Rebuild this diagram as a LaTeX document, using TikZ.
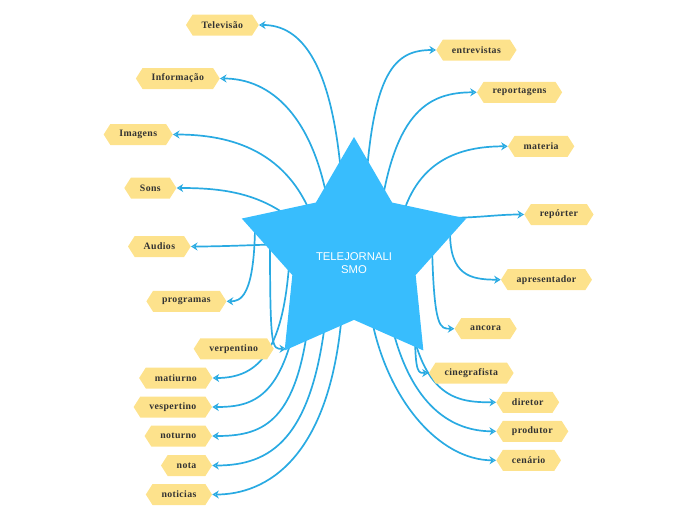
\documentclass[tikz,border=0pt]{standalone}
\usepackage{fontspec}
\setmainfont{Liberation Serif}
\newfontfamily\topicfont[LetterSpace=4]{Liberation Serif}
\newfontfamily\centerfont{Liberation Sans}
\usetikzlibrary{shapes.geometric, shapes.symbols, arrows.meta, backgrounds}
\definecolor{tjStar}{HTML}{38BDFD}
\definecolor{tjLine}{HTML}{29AAE2}
\definecolor{tjTopic}{HTML}{FDE28C}
\definecolor{tjText}{HTML}{333333}

\begin{document}
\begin{tikzpicture}[x=1pt, y=1pt,
  topic/.style={signal, signal to=east and west, signal pointer angle=115,
                fill=tjTopic, text=tjText,
                font=\topicfont\bfseries\fontsize{9.8}{11}\selectfont,
                inner xsep=9pt, inner ysep=2pt, minimum height=21pt},
  link/.style={draw=tjLine, line width=1.7pt,
               -{Stealth[open, length=6.5pt, width=8pt]}}]
  \useasboundingbox (0,0) rectangle (696,-520);

  % centre
  \node[star, star points=5, star point ratio=1.82, minimum size=236pt,
        inner sep=0pt, fill=tjStar] (tele) at (354,-255) {};
  \node[text=white, align=center, font=\centerfont\fontsize{11.3}{13.3}\selectfont]
    (teletext) at (354,-263) {TELEJORNALI\\SMO};

  % left branch
  \node[topic, anchor=east] (televisao)  at (259,-25)    {Televisão};
  \node[topic, anchor=east] (informacao) at (220,-78.5)  {Informação};
  \node[topic, anchor=east] (imagens)    at (173,-134.5) {Imagens};
  \node[topic, anchor=east] (sons)       at (176.7,-188) {Sons};
  \node[topic, anchor=east] (audios)     at (191,-246.5) {Audios};
  \node[topic, anchor=east] (programas)  at (226.7,-301.3) {programas};
  \node[topic, anchor=east] (verpentino) at (274,-348.8) {verpentino};
  \node[topic, anchor=east] (matiurno)   at (212.7,-378) {matiurno};
  \node[topic, anchor=east] (vespertino) at (212.3,-407) {vespertino};
  \node[topic, anchor=east] (noturno)    at (212.3,-436) {noturno};
  \node[topic, anchor=east] (nota)       at (212.3,-465.5) {nota};
  \node[topic, anchor=east] (noticias)   at (212.3,-494.5) {noticias};
  \coordinate (verpentino-in) at ([xshift=12pt]verpentino.east);

  % right branch
  \node[topic, anchor=west] (entrevistas)  at (436,-50)    {entrevistas};
  \node[topic, anchor=west] (reportagens)  at (476.7,-92.3) {reportagens};
  \node[topic, anchor=west] (materia)      at (507.7,-146.3) {materia};
  \node[topic, anchor=west] (reporter)     at (524,-214.5) {repórter};
  \node[topic, anchor=west] (apresentador) at (500.7,-279.7) {apresentador};
  \node[topic, anchor=west] (ancora)       at (454.3,-328.7) {ancora};
  \node[topic, anchor=west] (cinegrafista) at (428.7,-373) {cinegrafista};
  \node[topic, anchor=west] (diretor)      at (496,-402.3) {diretor};
  \node[topic, anchor=west] (produtor)     at (496,-431.3) {produtor};
  \node[topic, anchor=west] (cenario)      at (496,-460.3) {cenário};

  \begin{scope}[on background layer]
    \draw[link] ([shift={(-11,55)}]tele.center) .. controls +(-8,140) and +(41,0) .. (televisao.east);
    \draw[link] ([shift={(-24,40)}]tele.center) .. controls +(-15,100) and +(50,0) .. (informacao.east);
    \draw[link] ([shift={(-39,30)}]tele.center) .. controls +(-25,75) and +(57,0) .. (imagens.east);
    \draw[link] ([shift={(-59,33)}]tele.center) .. controls +(-35,30) and +(43,0) .. (sons.east);
    \draw[link] ([shift={(-69,11)}]tele.center) .. controls +(-30,-1) and +(30,0) .. (audios.east);
    \draw[link] ([shift={(-99,27)}]tele.center) .. controls +(-1,-70) and +(13,0) .. (programas.east);
    \draw[link] ([shift={(-84,15)}]tele.center) .. controls +(0,-110) and +(-14,0) .. (verpentino-in);
    \draw[link] ([shift={(-64,5)}]tele.center) .. controls +(-5,-100) and +(47,0) .. (matiurno.east);
    \draw[link] ([shift={(-58,-65)}]tele.center) .. controls +(-16,-80) and +(38,0) .. (vespertino.east);
    \draw[link] ([shift={(-46,-70)}]tele.center) .. controls +(-13,-100) and +(48,0) .. (noturno.east);
    \draw[link] ([shift={(-28,-60)}]tele.center) .. controls +(-14,-125) and +(58,0) .. (nota.east);
    \draw[link] ([shift={(-12,-57)}]tele.center) .. controls +(-12,-148) and +(53,0) .. (noticias.east);

    \draw[link] ([shift={(11,55)}]tele.center) .. controls +(7,130) and +(-41,0) .. (entrevistas.west);
    \draw[link] ([shift={(26,40)}]tele.center) .. controls +(15,105) and +(-47,0) .. (reportagens.west);
    \draw[link] ([shift={(46,30)}]tele.center) .. controls +(15,65) and +(-48,0) .. (materia.west);
    \draw[link] ([shift={(86,37)}]tele.center) .. controls +(40,0) and +(-29,0) .. (reporter.west);
    \draw[link] ([shift={(96,23)}]tele.center) .. controls +(0,-43) and +(-31,0) .. (apresentador.west);
    \draw[link] ([shift={(78,10)}]tele.center) .. controls +(2,-85) and +(-14,0) .. (ancora.west);
    \draw[link] ([shift={(61,-75)}]tele.center) .. controls +(0,-45) and +(-10,0) .. (cinegrafista.west);
    \draw[link] ([shift={(56,-65)}]tele.center) .. controls +(15,-80) and +(-36,0) .. (diretor.west);
    \draw[link] ([shift={(36,-63)}]tele.center) .. controls +(20,-92) and +(-41,0) .. (produtor.west);
    \draw[link] ([shift={(16,-55)}]tele.center) .. controls +(15,-90) and +(-56,0) .. (cenario.west);
  \end{scope}
\end{tikzpicture}
\end{document}
